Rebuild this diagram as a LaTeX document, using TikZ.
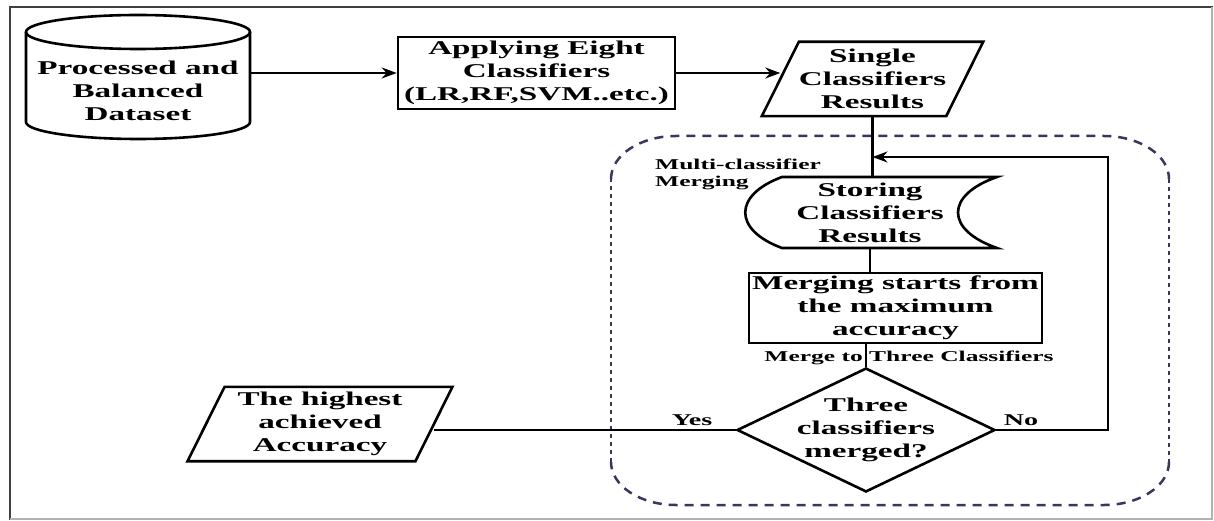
\documentclass[tikz,border=0pt]{standalone}
\usepackage{fontspec}
\setmainfont{Liberation Serif}[FakeStretch=1.7]
\usetikzlibrary{shapes.geometric,arrows.meta}
\definecolor{navy}{RGB}{55,55,95}
\begin{document}
\begin{tikzpicture}[x=1pt,y=1pt,
  shp/.style={draw=black, line width=2.6pt},
  con/.style={draw=black, line width=2.3pt},
  arr/.style={con, -{Stealth[length=15pt,width=11pt]}},
  txt/.style={font=\bfseries\fontsize{19.5}{23}\selectfont, align=center, inner sep=0pt},
  small/.style={font=\bfseries\fontsize{15}{17}\selectfont, inner sep=0pt},
  grp/.style={draw=navy, line width=2.5pt, dash pattern=on 9pt off 7pt},
  grps/.style={draw=navy, line width=2.5pt, dash pattern=on 4pt off 4pt}]
\useasboundingbox (0,0) rectangle (1214,-521);
\fill[white] (0,0) rectangle (1214,-521);
% frame
\draw[black!75, line width=2.8pt] (10,-520) -- (10,-7) -- (1213,-7);
\draw[black!30, line width=1.4pt] (1212,-7) -- (1212,-519) -- (10,-519);
% group container
\draw[grp] (611,-179) arc[start angle=180,end angle=90,x radius=65,y radius=43] -- (1104,-136) arc[start angle=90,end angle=0,x radius=65,y radius=43];
\draw[grps] (1169,-179) -- (1169,-462);
\draw[grp] (1169,-462) arc[start angle=0,end angle=-90,x radius=65,y radius=43] -- (676,-505) arc[start angle=270,end angle=180,x radius=65,y radius=43];
\draw[grps] (611,-462) -- (611,-179);
% cylinder
\draw[shp] (26,-32) -- (26,-122) arc[start angle=180,end angle=360,x radius=112,y radius=17] -- (250,-32);
\draw[shp] (138,-32) ellipse[x radius=112, y radius=17];
\node[txt, minimum width=224] (data) at (138,-91) {Processed and\\Balanced\\Dataset};
% applying box
\node[txt, shp, minimum width=277, minimum height=72] (app) at (536.5,-73) {Applying Eight\\Classifiers\\(LR,RF,SVM..etc.)};
% single results
\node[txt, minimum width=184, minimum height=74] (single) at (872.5,-79) {Single\\Classifiers\\Results};
\draw[shp] ([xshift=18.5pt]single.north west) -- ([xshift=18.5pt]single.north east) -- ([xshift=-18.5pt]single.south east) -- ([xshift=-18.5pt]single.south west) -- cycle;
% storing
\draw[shp] (782,-177) -- (997,-177) .. controls (945,-195) and (945,-230) .. (997,-248) -- (782,-248) .. controls (733,-230) and (733,-195) .. cycle;
\node[txt, minimum height=71] (store) at (870,-212.5) {Storing\\Classifiers\\Results};
% merging box
\node[txt, shp, minimum width=293, minimum height=70] (merge) at (895.5,-308) {Merging starts from\\the maximum\\accuracy};
% diamond
\node[shp, diamond, minimum width=258, minimum height=124, inner sep=0pt] (dia) at (866,-430) {};
\node[txt] (diatext) at (dia.center) {Three\\classifiers\\merged?};
% best
\node[txt, minimum width=227.5, minimum height=74] (best) at (320,-424) {The highest\\achieved\\Accuracy};
\draw[shp] ([xshift=18.5pt]best.north west) -- ([xshift=18.5pt]best.north east) -- ([xshift=-18.5pt]best.south east) -- ([xshift=-18.5pt]best.south west) -- cycle;
% labels
\node[small, anchor=west, align=left] (mcm) at (655,-174.5) {Multi-classifier\\Merging};
% connectors
\draw[arr] (app.west -| data.east) -- (app.west);
\draw[arr] (app.east) -- (app.east -| single.west);
\draw[con] (single.south) -- (single.south |- store.north);
\draw[con] (store.south) -- (store.south |- merge.north);
\draw[con] (merge.south -| dia.north) -- (dia.north);
\node[small] (mtc) at (909,-358) {Merge to Three Classifiers};
\draw[con] (dia.west) -- (dia.west -| best.east);
\node[small, font=\bfseries\fontsize{16.5}{18}\selectfont] (yes) at (692,-420) {Yes};
\coordinate (turn) at (1108,-430);
\coordinate (lvl) at (0,-157);
\coordinate (join) at (single.south |- lvl);
\draw[arr] (dia.east) -- (turn) |- (join);
\node[small, font=\bfseries\fontsize{16.5}{18}\selectfont] (no) at (1021,-420) {No};
\end{tikzpicture}
\end{document}
